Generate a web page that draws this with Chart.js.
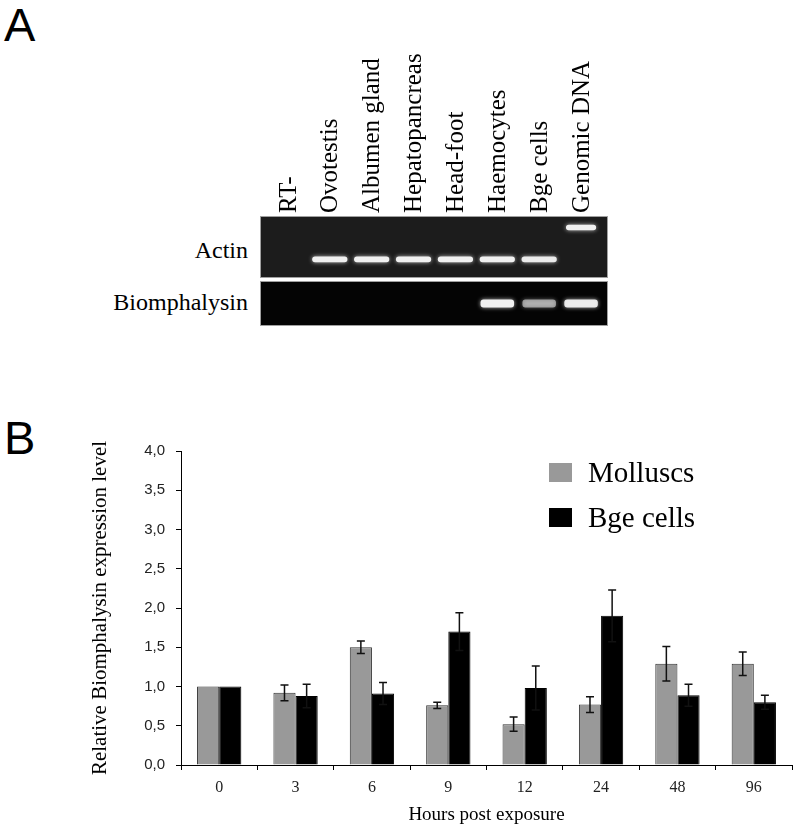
<!DOCTYPE html>
<html>
<head>
<meta charset="utf-8">
<script src="https://cdn.jsdelivr.net/npm/chart.js@4.4.1/dist/chart.umd.min.js"></script>
<style>
body { margin: 0; background: #fff; width: 798px; height: 831px; position: relative; overflow: hidden; }
canvas { position: absolute; }
.panel { position: absolute; left: 4px; font: 47px "Liberation Sans", Arial, sans-serif; line-height: 46px; }
.row { position: absolute; left: 0; width: 248px; text-align: right; font: 24px "Liberation Serif", serif; line-height: 24px; }
</style>
</head>
<body>
<div class="panel" style="top:2px">A</div>
<div class="panel" style="top:415px">B</div>
<div class="row" style="top:238px">Actin</div>
<div class="row" style="top:290px">Biomphalysin</div>
<canvas id="gelTop" width="348" height="278" style="left:260px;top:0"></canvas>
<canvas id="gelBottom" width="348" height="45" style="left:260px;top:281px"></canvas>
<canvas id="chartB" width="798" height="431" style="left:0;top:400px"></canvas>
<script>
// panel A - gel lanes and band intensities (0 = no band)
var lanes = ['RT-', 'Ovotestis', 'Albumen gland', 'Hepatopancreas', 'Head-foot', 'Haemocytes', 'Bge cells', 'Genomic DNA'];
var actinBand = [0, 1, 1, 1, 1, 1, 0.95, 0];
var actinGenomicBand = [0, 0, 0, 0, 0, 0, 0, 1];
var biomphalysinBand = [0, 0, 0, 0, 0, 1, 0.55, 0.95];

// panel B - relative expression
var hours = ['0', '3', '6', '9', '12', '24', '48', '96'];
var molluscs = [1.00, 0.92, 1.50, 0.76, 0.52, 0.77, 1.29, 1.29];
var molluscsErr = [0, 0.10, 0.08, 0.04, 0.09, 0.10, 0.22, 0.15];
var bgeCells = [1.00, 0.88, 0.91, 1.70, 0.98, 1.90, 0.89, 0.80];
var bgeCellsErr = [0, 0.15, 0.14, 0.24, 0.28, 0.33, 0.14, 0.09];
var yTickLabels = ['0,0', '0,5', '1,0', '1,5', '2,0', '2,5', '3,0', '3,5', '4,0'];

var serif = '"Liberation Serif", "Times New Roman", serif';
var sans = '"Liberation Sans", Arial, sans-serif';

// floating bar = one band on the gel, position given in migration units (0 top, 1 bottom)
function bands(values, pos, half, width) {
    return {
        data: values.map(function(v) { return v > 0 ? [pos - half, pos + half] : null; }),
        backgroundColor: values.map(function(v) { return 'rgba(240,240,240,' + v + ')'; }),
        borderWidth: 0,
        borderRadius: 3,
        borderSkipped: false,
        barPercentage: width,
        categoryPercentage: 1,
        grouped: false
    };
}

function gelLook(bg) {
    return {
        id: 'gelLook',
        beforeDraw: function(chart) {
            var ctx = chart.ctx, a = chart.chartArea;
            ctx.save();
            ctx.fillStyle = bg;
            ctx.fillRect(0, a.top, chart.width, a.bottom - a.top);
            ctx.restore();
        },
        beforeDatasetsDraw: function(chart) {
            chart.ctx.save();
            chart.ctx.shadowColor = 'rgba(255,255,255,0.7)';
            chart.ctx.shadowBlur = 4;
        },
        afterDatasetsDraw: function(chart) {
            chart.ctx.restore();
        },
        afterDraw: function(chart) {
            var ctx = chart.ctx, a = chart.chartArea;
            ctx.save();
            ctx.strokeStyle = '#a0a0a0';
            ctx.lineWidth = 1;
            ctx.strokeRect(0.5, a.top + 0.5, chart.width - 1, a.bottom - a.top - 1);
            ctx.restore();
        }
    };
}

function gelChart(id, datasets, bg, showLanes) {
    return new Chart(document.getElementById(id), {
        type: 'bar',
        data: { labels: lanes, datasets: datasets },
        options: {
            responsive: false,
            animation: false,
            layout: { padding: { left: 7, right: 6 } },
            plugins: { legend: { display: false }, tooltip: { enabled: false } },
            scales: {
                x: {
                    position: 'top',
                    display: showLanes,
                    grid: { display: false },
                    border: { display: false },
                    ticks: {
                        autoSkip: false, minRotation: 90, maxRotation: 90, padding: -5, labelOffset: 31,
                        color: '#000', font: { family: serif, size: 25 }
                    },
                    afterFit: function(s) { if (showLanes) s.height = 216; }
                },
                y: { display: false, min: 0, max: 1, reverse: true }
            }
        },
        plugins: [gelLook(bg)]
    });
}

gelChart('gelTop', [
    bands(actinBand, 0.70, 0.045, 0.84),
    bands(actinGenomicBand, 0.185, 0.045, 0.72)
], '#1c1c1c', true);

gelChart('gelBottom', [
    bands(biomphalysinBand, 0.5, 0.09, 0.80)
], '#040404', false);

// error bars drawn from the y scale
var errorBars = {
    id: 'errorBars',
    afterDatasetsDraw: function(chart) {
        var ctx = chart.ctx, y = chart.scales.y;
        ctx.save();
        ctx.strokeStyle = '#111';
        ctx.lineWidth = 1.5;
        chart.data.datasets.forEach(function(ds, di) {
            chart.getDatasetMeta(di).data.forEach(function(bar, i) {
                var e = ds.err[i];
                if (!e) return;
                var top = y.getPixelForValue(ds.data[i] + e);
                var bot = y.getPixelForValue(ds.data[i] - e);
                ctx.beginPath();
                ctx.moveTo(bar.x, top); ctx.lineTo(bar.x, bot);
                ctx.moveTo(bar.x - 4, top); ctx.lineTo(bar.x + 4, top);
                ctx.moveTo(bar.x - 4, bot); ctx.lineTo(bar.x + 4, bot);
                ctx.stroke();
            });
        });
        ctx.restore();
    }
};

// legend sits inside the plot, top right
var legendBox = {
    id: 'legendBox',
    afterDraw: function(chart) {
        var ctx = chart.ctx, a = chart.chartArea;
        ctx.save();
        ctx.font = '29px ' + serif;
        chart.data.datasets.forEach(function(ds, i) {
            var x = a.left + 368, yb = a.top + 31 + i * 45;
            ctx.fillStyle = ds.backgroundColor;
            ctx.fillRect(x, yb - 19, 23, 19);
            ctx.fillStyle = '#000';
            ctx.fillText(ds.label, x + 39, yb);
        });
        ctx.restore();
    }
};

new Chart(document.getElementById('chartB'), {
    type: 'bar',
    data: {
        labels: hours,
        datasets: [
            { label: 'Molluscs', data: molluscs, err: molluscsErr, backgroundColor: '#999999', borderColor: '#333', borderWidth: 1 },
            { label: 'Bge cells', data: bgeCells, err: bgeCellsErr, backgroundColor: '#000000', borderColor: '#000', borderWidth: 1 }
        ]
    },
    options: {
        responsive: false,
        animation: false,
        layout: { padding: { top: 51, right: 6 } },
        datasets: { bar: { categoryPercentage: 0.58, barPercentage: 1 } },
        plugins: { legend: { display: false }, tooltip: { enabled: false } },
        scales: {
            x: {
                grid: { drawOnChartArea: false, tickLength: 5, color: '#000' },
                border: { color: '#000' },
                ticks: { padding: 8, color: '#222', font: { family: serif, size: 16 } },
                title: { display: true, text: 'Hours post exposure', color: '#000', padding: { top: 0, bottom: 5 }, font: { family: serif, size: 19 } },
                afterFit: function(s) { s.height = 66; }
            },
            y: {
                min: 0,
                max: 4,
                grid: { drawOnChartArea: false, tickLength: 5, color: '#000' },
                border: { color: '#000' },
                ticks: {
                    stepSize: 0.5, padding: 11, color: '#222', font: { family: sans, size: 15 },
                    callback: function(v, i) { return yTickLabels[i]; }
                },
                title: { display: true, text: 'Relative Biomphalysin expression level', color: '#000', padding: { top: 88, bottom: 0 }, font: { family: serif, size: 21 } },
                afterFit: function(s) { s.width = 181; }
            }
        }
    },
    plugins: [errorBars, legendBox]
});
</script>
</body>
</html>
